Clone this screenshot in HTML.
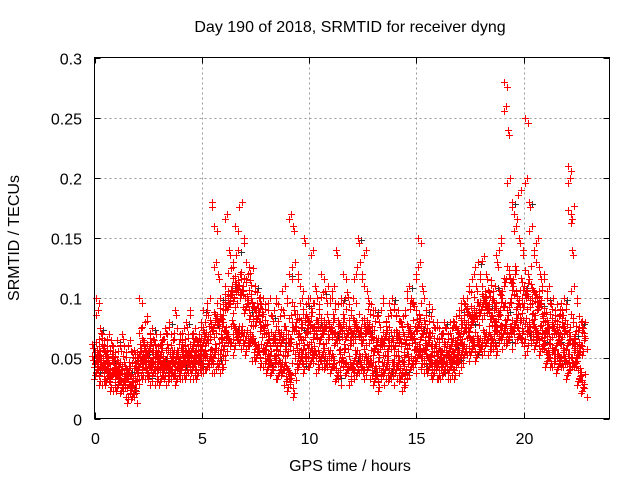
<!DOCTYPE html>
<html><head><meta charset="utf-8"><style>
body{margin:0;background:#fff}
svg{display:block;font-family:"Liberation Sans",sans-serif}
</style></head><body>
<svg id="chart" width="640" height="480">
<text x="350" y="32" font-size="16" text-anchor="middle" fill="#000">Day 190 of 2018, SRMTID for receiver dyng</text>
<text x="350" y="471" font-size="16" text-anchor="middle" fill="#000">GPS time / hours</text>
<text transform="translate(19,238) rotate(-90)" font-size="16" text-anchor="middle" fill="#000">SRMTID / TECUs</text>
<g id="grid"></g><g id="ticks"></g><g id="marks"></g>
<rect x="94.5" y="57.5" width="515" height="361" fill="none" stroke="#000" stroke-width="1"/>
</svg>
<script>
const xTicks=[0,5,10,15,20];
const yTicks=[0,0.05,0.1,0.15,0.2,0.25,0.3];
const yTickLabels=["0","0.05","0.1","0.15","0.2","0.25","0.3"];
const seriesA=[.055,.05,.06,.045,.05,.055,.045,.04,.05,.045,
.045,.04,.045,.04,.035,.04,.04,.035,.03,.035,
.05,.055,.05,.06,.055,.05,.06,.055,.05,.045,
.05,.055,.05,.045,.05,.055,.05,.045,.05,.055,
.05,.055,.06,.05,.055,.05,.06,.055,.05,.06,
.06,.065,.07,.065,.07,.075,.08,.085,.075,.07,
.08,.09,.1,.095,.11,.1,.105,.115,.1,.11,
.1,.095,.09,.1,.085,.09,.085,.08,.085,.075,
.07,.065,.06,.065,.07,.06,.065,.07,.065,.06,
.07,.06,.08,.09,.08,.07,.075,.065,.08,.075,
.08,.085,.075,.07,.08,.075,.07,.08,.075,.07,
.075,.08,.07,.065,.07,.075,.08,.075,.07,.065,
.07,.075,.08,.07,.075,.065,.07,.08,.075,.07,
.065,.06,.055,.06,.065,.06,.07,.065,.06,.065,
.06,.065,.07,.06,.055,.065,.07,.075,.065,.07,
.09,.08,.075,.07,.065,.075,.065,.06,.055,.06,
.055,.05,.055,.06,.055,.05,.06,.055,.06,.065,
.07,.075,.08,.075,.08,.085,.08,.09,.085,.09,
.09,.095,.1,.09,.095,.085,.09,.08,.085,.09,
.1,.11,.09,.12,.1,.11,.12,.1,.095,.1,
.11,.1,.12,.095,.1,.105,.09,.1,.095,.085,
.08,.075,.07,.08,.075,.07,.065,.07,.08,.075,
.07,.065,.17,.08,.07,.06,.055,.06,.065];
const seriesB=[.045,.04,.035,.04,.035,.04,.035,.03,.035,.03,
.035,.03,.03,.025,.03,.025,.02,.025,.02,.025,
.04,.045,.04,.045,.04,.035,.04,.045,.04,.035,
.04,.035,.04,.04,.035,.04,.045,.035,.04,.04,
.04,.045,.04,.04,.045,.04,.045,.04,.045,.045,
.045,.05,.05,.045,.05,.045,.055,.05,.05,.045,
.06,.065,.07,.06,.07,.075,.065,.07,.07,.065,
.065,.06,.07,.065,.055,.06,.055,.05,.055,.05,
.05,.045,.045,.04,.05,.045,.04,.045,.04,.035,
.04,.03,.025,.05,.045,.055,.05,.045,.05,.055,
.055,.05,.06,.05,.045,.05,.055,.05,.045,.05,
.05,.045,.04,.035,.04,.05,.055,.045,.04,.035,
.04,.05,.045,.05,.045,.04,.045,.05,.045,.04,
.04,.035,.03,.035,.04,.04,.045,.04,.035,.04,
.04,.045,.04,.035,.03,.04,.045,.05,.045,.05,
.06,.055,.05,.045,.045,.05,.045,.04,.04,.045,
.04,.04,.045,.04,.045,.04,.045,.04,.045,.05,
.05,.055,.06,.055,.06,.065,.06,.055,.065,.06,
.06,.065,.07,.065,.06,.065,.07,.06,.065,.07,
.07,.075,.07,.065,.075,.07,.08,.075,.08,.075,
.06,.07,.08,.065,.07,.075,.065,.06,.07,.065,
.055,.05,.05,.055,.05,.05,.045,.05,.055,.05,
.045,.04,.05,.055,.05,.04,.035,.03,.025];
const seriesC=[.1,.09,.075,.07,.065,.06,.07,.065,.06,.055,
.065,.06,.07,.06,.055,.06,.065,.055,.05,.055,
.1,.075,.065,.08,.085,.07,.075,.065,.07,.06,
.07,.065,.075,.07,.08,.07,.065,.09,.075,.07,
.065,.075,.08,.07,.09,.07,.075,.065,.07,.08,
.09,.08,.09,.1,.18,.16,.13,.12,.1,.095,
.11,.17,.14,.125,.13,.16,.14,.12,.18,.15,
.13,.12,.115,.125,.11,.105,.1,.095,.1,.095,
.09,.1,.085,.09,.1,.095,.085,.09,.11,.1,
.12,.17,.16,.13,.12,.11,.1,.15,.095,.1,
.1,.14,.11,.1,.095,.12,.105,.1,.11,.1,
.1,.11,.14,.095,.1,.12,.1,.105,.095,.09,
.1,.12,.15,.13,.12,.11,.14,.1,.095,.09,
.09,.085,.08,.09,.1,.08,.085,.09,.1,.095,
.085,.09,.08,.085,.09,.1,.11,.1,.095,.12,
.15,.13,.11,.1,.09,.095,.085,.08,.075,.08,
.075,.07,.08,.075,.07,.08,.075,.08,.085,.09,
.09,.1,.095,.1,.11,.105,.12,.11,.13,.12,
.11,.135,.12,.105,.115,.1,.11,.13,.14,.15,
.28,.26,.24,.2,.18,.17,.16,.15,.19,.14,
.25,.2,.18,.16,.14,.13,.15,.12,.11,.12,
.1,.11,.095,.1,.09,.095,.085,.09,.1,.095,
.21,.2,.14,.11,.1,.085,.08,.075,.08];
const binHours=0.1;
const X0=94.5,X1=609.5,Y0=418.5,Y1=57.5,XMAX=24,YMAX=0.3;
function sx(h){return X0+(h/XMAX)*(X1-X0);}
function sy(v){return Y0-(v/YMAX)*(Y0-Y1);}
const NS="http://www.w3.org/2000/svg";
const grid=document.getElementById('grid'),ticks=document.getElementById('ticks'),marks=document.getElementById('marks');
function mk(tag,attrs,parent){const e=document.createElementNS(NS,tag);for(const k in attrs)e.setAttribute(k,attrs[k]);parent.appendChild(e);return e;}
xTicks.forEach(t=>{
  const x=Math.round(sx(t))+0.5;
  if(t>0){const g=mk('line',{x1:x,x2:x,y1:Y1,y2:Y0,stroke:'#999','stroke-dasharray':'2,3'},grid);
  
  }
  const a=mk('line',{x1:x,x2:x,y1:Y0,y2:Y0-6,stroke:'#000'},ticks);
  
  
  const b=mk('line',{x1:x,x2:x,y1:Y1,y2:Y1+6,stroke:'#000'},ticks);
  
  
  const l=mk('text',{x:x,y:444,'font-size':16,'text-anchor':'middle',fill:'#000'},ticks);
  l.textContent=String(t);
  
  
});
yTicks.forEach((t,i)=>{
  const y=Math.round(sy(t))+0.5;
  if(t>0&&t<YMAX){const g=mk('line',{x1:X0,x2:X1,y1:y,y2:y,stroke:'#999','stroke-dasharray':'2,3'},grid);
  
  }
  const a=mk('line',{x1:X0,x2:X0+6,y1:y,y2:y,stroke:'#000'},ticks);
  
  
  const b=mk('line',{x1:X1,x2:X1-6,y1:y,y2:y,stroke:'#000'},ticks);
  
  
  const l=mk('text',{x:82,y:y+6,'font-size':16,'text-anchor':'end',fill:'#000'},ticks);
  l.textContent=yTickLabels[i];
  
  
});
// each value is drawn as a small cluster of crosses to mimic the dense raw sampling
const clusterDx=[0,3,-2,1,-3];
const clusterDy=[0,5,-4,9,-8];
let d='',dk='';
[[seriesA,0],[seriesB,0.033],[seriesC,0.066]].forEach(([arr,off],si)=>{
  arr.forEach((v,i)=>{
    const bx=sx(i*binHours+off),by=sy(v);
    const n=si===2?2:5;
    for(let k=0;k<n;k++){
      const x=Math.round(bx+clusterDx[(k+i)%5]*(k?1:0))+0.5,y=Math.round(by+clusterDy[k])+0.5;
      if(y>Y0||y<Y1)continue;
      d+=`M${x-3.5} ${y}h7M${x} ${y-3.5}v7`;
    }
    if(i%8===si){const x=Math.round(bx+3)+0.5,y=Math.round(by+2)+0.5;dk+=`M${x-3.5} ${y}h7M${x} ${y-3.5}v7`;}
  });
});
const pk=mk('path',{d:dk,stroke:'#333','stroke-width':1,fill:'none'},marks);


const p=mk('path',{d:d,stroke:'#ff0000','stroke-width':1,fill:'none'},marks);


</script>
</body></html>
